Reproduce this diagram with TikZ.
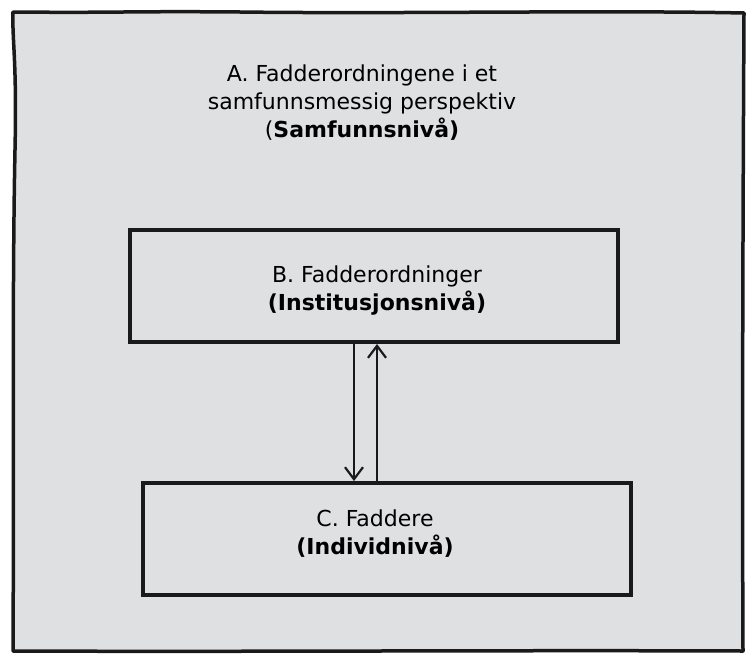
\documentclass[tikz,border=0pt]{standalone}
\usepackage{fontspec}
\setmainfont{DejaVu Sans}
\usetikzlibrary{arrows.meta}
\definecolor{panel}{HTML}{DFE0E2}
\definecolor{ink}{HTML}{1A1A1A}
\tikzset{
  lvlbox/.style={draw=ink, line width=4pt, fill=panel, minimum width=488pt, minimum height=112pt, inner sep=0pt},
  lvltext/.style={align=center, font=\fontsize{22}{28}\selectfont, inner sep=0pt},
  link/.style={draw=ink, line width=2.2pt, -{Straight Barb[length=12pt,width=18pt,line width=2.2pt]}}
}
\begin{document}
\begin{tikzpicture}[x=1pt,y=-1pt]
\useasboundingbox (0,0) rectangle (746,656);
\fill[white] (0,0) rectangle (746,656);
% outer hand-drawn frame
\filldraw[draw=ink, fill=panel, line width=3.5pt, line join=round]
  (13,12) .. controls (120,13) and (125,11) .. (240,12)
  .. controls (400,14) and (600,10) .. (744,13)
  .. controls (743,200) and (742,450) .. (743,651)
  .. controls (500,650) and (250,652) .. (13,651)
  .. controls (14,500) and (12,300) .. (15,150)
  .. controls (17,60) and (12,40) .. cycle;
\node[lvltext] (a) at (362,103) {A. Fadderordningene i et\\samfunnsmessig perspektiv\\(\textbf{Samfunnsnivå)}};
\node[lvlbox] (b) at (374,286) {};
\node[lvltext] (bt) at (377,291) {B. Fadderordninger\\\textbf{(Institusjonsnivå)}};
\node[lvlbox] (c) at (387,539) {};
\node[lvltext] (ct) at (375,534) {C. Faddere\\\textbf{(Individnivå)}};
\draw[link] (b.south -| 354,0) -- (c.north -| 354,0);
\draw[link] (c.north -| 377,0) -- (b.south -| 377,0);
\end{tikzpicture}
\end{document}
